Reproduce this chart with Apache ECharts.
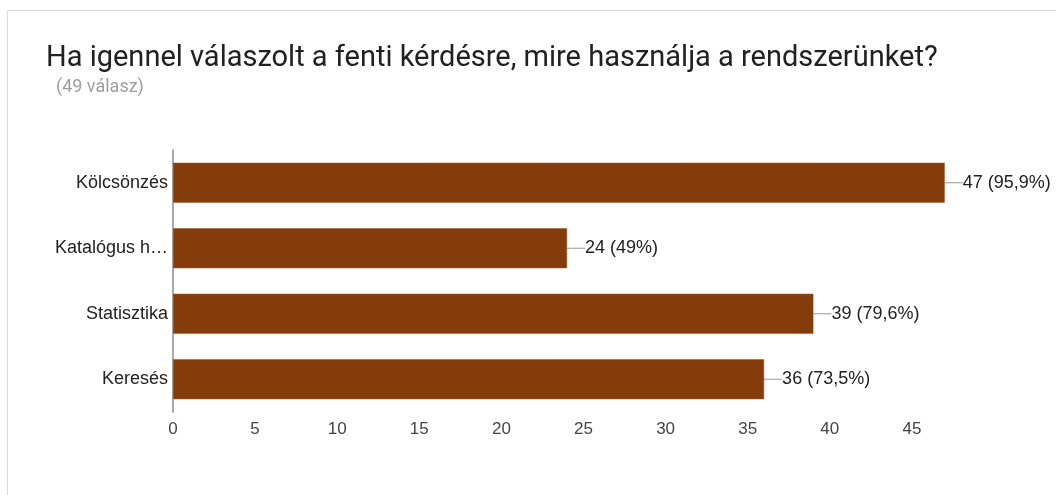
<!DOCTYPE html>
<html><head><meta charset="utf-8">
<script src="https://cdn.jsdelivr.net/npm/echarts@6/dist/echarts.min.js"></script>
<style>html,body{margin:0;padding:0;background:#fff}#c{width:1056px;height:495px}</style>
</head><body><div id="c"></div>
<script>
const categories = ['Kölcsönzés', 'Katalógus h…', 'Statisztika', 'Keresés'];
const values = [47, 24, 39, 36];
const labels = ['47 (95,9%)', '24 (49%)', '39 (79,6%)', '36 (73,5%)'];
const tickMax = 45;

const chart = echarts.init(document.getElementById('c'), null, {renderer: 'canvas'});
chart.setOption({
  animation: false,
  graphic: [
    {type: 'rect', shape: {x: 7.5, y: 10.5, width: 1100, height: 600}, style: {fill: 'none', stroke: '#dadada', lineWidth: 1}, silent: true},
    {type: 'text', left: 46, top: 44, style: {text: 'Ha igennel válaszolt a fenti kérdésre, mire használja a rendszerünket?', font: '29px Roboto', fill: '#212121'}},
    {type: 'text', left: 56, top: 78, style: {text: '(49 válasz)', font: '18px Roboto', fill: '#9e9e9e'}}
  ],
  grid: {left: 173, top: 150, width: 821, height: 262, containLabel: false},
  xAxis: {
    type: 'value', min: 0, max: 50, interval: 5,
    axisLine: {show: false}, axisTick: {show: false}, splitLine: {show: false},
    axisLabel: {color: '#444', fontFamily: 'Liberation Sans', fontSize: 17, margin: 9,
      formatter: v => v > tickMax ? '' : String(v)}
  },
  yAxis: {
    type: 'category', data: categories, inverse: true,
    axisLine: {show: true, lineStyle: {color: '#aaa', width: 2}},
    axisTick: {show: false},
    axisLabel: {color: '#222', fontFamily: 'Liberation Sans', fontSize: 18, margin: 5}
  },
  series: [{
    type: 'bar', data: values, barWidth: '61%',
    itemStyle: {color: '#843c0b', borderColor: '#a0592a', borderWidth: 0.5},
    label: {show: true, position: 'right', distance: 1, color: '#222', fontFamily: 'Liberation Sans', fontSize: 18,
      formatter: p => labels[p.dataIndex]},
    labelLayout: {dx: 17},
    labelLine: {show: true, lineStyle: {color: '#999', width: 1}}
  }]
});
</script></body></html>
